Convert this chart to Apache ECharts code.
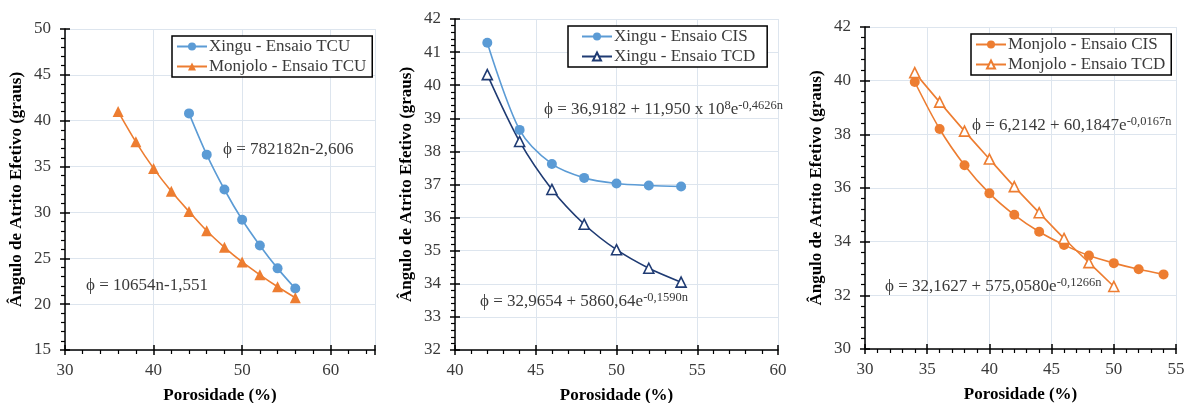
<!DOCTYPE html>
<html>
<head>
<meta charset="utf-8">
<script src="https://cdn.jsdelivr.net/npm/echarts@6/dist/echarts.min.js"></script>
<style>
html,body{margin:0;padding:0;background:#fff;}
#c{width:1191px;height:403px;}
</style>
</head>
<body>
<div id="c"></div>
<script>
// ---- Data ----
// Panel 1 (TCU)
const p1XinguX = [44, 46, 48, 50, 52, 54, 56];
const p1XinguY = [40.8, 36.3, 32.5, 29.2, 26.4, 23.9, 21.7];
const p1MonjoloX = [36, 38, 40, 42, 44, 46, 48, 50, 52, 54, 56];
const p1MonjoloY = [41.0, 37.7, 34.8, 32.3, 30.1, 28.0, 26.2, 24.6, 23.2, 21.9, 20.7];
// Panel 2 (Xingu CIS / TCD)
const p2CisX = [42, 44, 46, 48, 50, 52, 54];
const p2CisY = [41.28, 38.65, 37.62, 37.2, 37.03, 36.97, 36.94];
const p2TcdX = [42, 44, 46, 48, 50, 52, 54];
const p2TcdY = [40.32, 38.3, 36.85, 35.8, 35.03, 34.47, 34.05];
// Panel 3 (Monjolo CIS / TCD)
const p3CisX = [34, 36, 38, 40, 42, 44, 46, 48, 50, 52, 54];
const p3CisY = [39.95, 38.2, 36.85, 35.8, 35.0, 34.37, 33.88, 33.48, 33.2, 32.97, 32.78];
const p3TcdX = [34, 36, 38, 40, 42, 44, 46, 48, 50];
const p3TcdY = [40.3, 39.2, 38.12, 37.08, 36.05, 35.08, 34.12, 33.22, 32.33];

// Axis settings
const xRanges = [[30, 65, 10], [40, 60, 5], [30, 55, 5]];
const yRanges = [[15, 50, 5], [32, 42, 1], [30, 42, 2]];
const seriesNames = [
  ['Xingu - Ensaio TCU', 'Monjolo - Ensaio TCU'],
  ['Xingu - Ensaio CIS', 'Xingu - Ensaio TCD'],
  ['Monjolo - Ensaio CIS', 'Monjolo - Ensaio TCD']
];
const xName = 'Porosidade (%)';
const yName = 'Ângulo de Atrito Efetivo (graus)';

const zip = (xs, ys) => xs.map((x, i) => [x, ys[i]]);

const FONT = '"Liberation Serif", "Times New Roman", serif';
const BLUE = '#5B9BD5';
const ORANGE = '#ED7D31';
const NAVY = '#1F3B73';
const GRIDC = '#dde5ee';
const TXT = '#3a3a3a';

const grids = [
  {left: 65, top: 29, width: 310, height: 321, outerBoundsMode: 'none', containLabel: false},
  {left: 455, top: 19, width: 323, height: 331, outerBoundsMode: 'none', containLabel: false},
  {left: 865, top: 27, width: 311, height: 322, outerBoundsMode: 'none', containLabel: false}
];

const xAxes = [], yAxes = [];
for (let i = 0; i < 3; i++) {
  const [xmin, xmax, xint] = xRanges[i];
  const [ymin, ymax, yint] = yRanges[i];
  xAxes.push({
    type: 'value', gridIndex: i, min: xmin, max: xmax, interval: xint,
    name: xName, nameLocation: 'middle', nameGap: 37,
    nameTextStyle: {fontFamily: FONT, fontWeight: 'bold', fontSize: 17, color: '#000'},
    axisLine: {show: true, onZero: false, lineStyle: {color: '#000', width: 1.5}},
    axisTick: {show: true, inside: false, length: 5, lineStyle: {color: '#000', width: 1.5}},
    minorTick: {show: true, splitNumber: 5, length: 4, lineStyle: {color: '#000', width: 1.2}},
    axisLabel: {fontFamily: FONT, fontSize: 17, color: TXT, margin: 12,
      formatter: v => (v === xmax && xmax % xint !== 0) ? '' : String(v)},
    splitLine: {show: true, lineStyle: {color: GRIDC, width: 1}}
  });
  yAxes.push({
    type: 'value', gridIndex: i, min: ymin, max: ymax, interval: yint,
    name: yName, nameLocation: 'middle', nameGap: 40,
    nameTextStyle: {fontFamily: FONT, fontWeight: 'bold', fontSize: 17, color: '#000'},
    axisLine: {show: true, onZero: false, lineStyle: {color: '#000', width: 1.5}},
    axisTick: {show: true, inside: false, length: 5, lineStyle: {color: '#000', width: 1.5}},
    minorTick: {show: true, splitNumber: 5, length: 4, lineStyle: {color: '#000', width: 1.2}},
    axisLabel: {fontFamily: FONT, fontSize: 17, color: TXT, margin: 14},
    splitLine: {show: true, lineStyle: {color: GRIDC, width: 1}}
  });
}
// duplicate axes for inside half of crossing major ticks
for (let i = 0; i < 3; i++) {
  const [xmin, xmax, xint] = xRanges[i];
  const [ymin, ymax, yint] = yRanges[i];
  xAxes.push({
    type: 'value', gridIndex: i, min: xmin, max: xmax, interval: xint, position: 'bottom',
    axisLine: {show: false, onZero: false}, axisLabel: {show: false}, splitLine: {show: false},
    axisTick: {show: true, inside: true, length: 5, lineStyle: {color: '#000', width: 1.5}}
  });
  yAxes.push({
    type: 'value', gridIndex: i, min: ymin, max: ymax, interval: yint, position: 'left',
    axisLine: {show: false, onZero: false}, axisLabel: {show: false}, splitLine: {show: false},
    axisTick: {show: true, inside: true, length: 5, lineStyle: {color: '#000', width: 1.5}}
  });
}

function mkSeries(name, data, idx, color, symbol, hollow, size) {
  return {
    name, type: 'line', xAxisIndex: idx, yAxisIndex: idx, data,
    smooth: 0.3, symbol, symbolSize: size, showSymbol: true,
    lineStyle: {color, width: 1.6},
    itemStyle: hollow ? {color: '#fff', borderColor: color, borderWidth: 1.6} : {color, borderColor: color, borderWidth: 0},
    emphasis: {disabled: true},
    z: 3
  };
}

const series = [
  mkSeries(seriesNames[0][0], zip(p1XinguX, p1XinguY), 0, BLUE, 'circle', false, 10),
  mkSeries(seriesNames[0][1], zip(p1MonjoloX, p1MonjoloY), 0, ORANGE, 'triangle', false, 11),
  mkSeries(seriesNames[1][0], zip(p2CisX, p2CisY), 1, BLUE, 'circle', false, 10),
  mkSeries(seriesNames[1][1], zip(p2TcdX, p2TcdY), 1, NAVY, 'triangle', true, 10),
  mkSeries(seriesNames[2][0], zip(p3CisX, p3CisY), 2, ORANGE, 'circle', false, 10),
  mkSeries(seriesNames[2][1], zip(p3TcdX, p3TcdY), 2, ORANGE, 'triangle', true, 10)
];

const legendPos = [
  {left: 172, top: 36, pad: [2, 6, 2, 4]},
  {left: 568, top: 26, pad: [2, 12, 2, 13]},
  {left: 971, top: 34, pad: [2, 6, 2, 4]}
];
const legends = legendPos.map((p, i) => ({
  left: p.left, top: p.top, orient: 'vertical',
  data: seriesNames[i],
  itemWidth: 30, itemHeight: 10, itemGap: 3,
  padding: p.pad,
  borderColor: '#000', borderWidth: 1.5,
  backgroundColor: '#fff',
  textStyle: {fontFamily: FONT, fontSize: 17, color: TXT, padding: [0, 0, 0, -3]},
  selectedMode: false
}));

const rich = {
  b: {fontFamily: FONT, fontSize: 17, color: TXT, lineHeight: 22},
  s: {fontFamily: FONT, fontSize: 12.5, color: TXT, lineHeight: 22, padding: [0, 0, 9, 0]}
};
function eq(left, cy, str) {
  return {type: 'text', left, top: cy - 11, z: 10,
    style: {text: str, rich, fontFamily: FONT, fontSize: 17, fill: TXT}};
}
const graphics = [
  eq(223, 152, '{b|ϕ = 782182n-2,606}'),
  eq(86, 288, '{b|ϕ = 10654n-1,551}'),
  eq(544, 110, '{b|ϕ = 36,9182 + 11,950 x 10}{s|8}{b|e}{s|-0,4626n}'),
  eq(480, 302, '{b|ϕ = 32,9654 + 5860,64e}{s|-0,1590n}'),
  eq(972, 126, '{b|ϕ = 6,2142 + 60,1847e}{s|-0,0167n}'),
  eq(885, 287, '{b|ϕ = 32,1627 + 575,0580e}{s|-0,1266n}')
];

const chart = echarts.init(document.getElementById('c'), null, {renderer: 'canvas'});
chart.setOption({
  animation: false,
  backgroundColor: '#fff',
  grid: grids,
  xAxis: xAxes,
  yAxis: yAxes,
  legend: legends,
  series,
  graphic: graphics
});
</script>
</body>
</html>
